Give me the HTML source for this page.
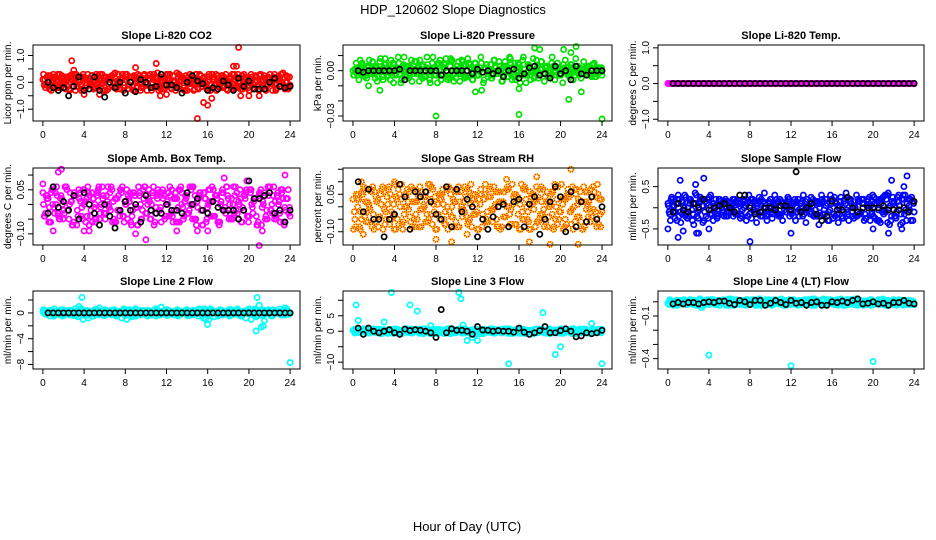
<!DOCTYPE html>
<html><head><meta charset="utf-8"><style>
html,body{margin:0;padding:0;background:#fff}
svg{display:block;font-family:"Liberation Sans",sans-serif}
</style></head><body>
<svg id="chart" width="936" height="540" viewBox="0 0 936 540">
<rect width="936" height="540" fill="#fff"/>
<text x="453" y="14" font-size="13" text-anchor="middle">HDP_120602  Slope Diagnostics</text>
<text x="467" y="531" font-size="13" text-anchor="middle">Hour of Day (UTC)</text>
</svg>
<script>
// ---- data ----
const hourTicks=[0,4,8,12,16,20,24];
const co2Color=[0.1,-0.2,0.25,-0.1,0.3,0.05,-0.3,0.15,-0.05,0.2,-0.25,0.1,0.3,-0.15,0.0,0.2,-0.3,0.1,-0.1,0.25,0.05,-0.2,0.3,-0.05,0.15,-0.25,0.2,0.0,-0.15,0.3,0.1,-0.3,0.2,-0.1,0.05,0.25,-0.2,0.15,-0.05,0.3,-0.3,0.1,0.2,-0.15,0.35,0.0,-0.25,0.15,0.3,-0.1,0.05,-0.3,0.2,0.1,-0.2,0.25,-0.05,0.15,-0.3,0.3,0.0,-0.15,0.2,-0.25,0.1,0.3,-0.1,0.05,-0.2,0.25,0.15,-0.3,0.2,-0.05,0.1,0.3,-0.25,0.0,0.15,-0.2,0.3,-0.1,0.2,-0.3,0.05,0.25,-0.15,0.1,-0.05,0.3,-0.2,0.15,0.0,-0.25,0.2,-0.1];
const co2OutHours=[2.8,3.0,11,9,15,15.6,16,16.4,18.5,18.8,19,19.2,20,21,11.4,5.5,4,12];
const co2OutVals=[0.8,0.45,0.7,0.55,-1.35,-0.75,-0.85,-0.6,0.6,0.6,1.3,-0.5,-0.5,-0.5,-0.5,-0.45,-0.45,-0.45];
const co2Black=[0.0,-0.2,-0.3,-0.2,-0.5,-0.15,0.2,-0.3,-0.25,0.2,-0.3,-0.55,0.0,-0.2,0.0,-0.4,0.0,-0.35,0.1,0.0,-0.2,-0.15,0.3,-0.1,-0.1,-0.2,-0.4,0.0,0.25,0.05,-0.05,-0.3,-0.2,-0.25,0.05,-0.1,-0.3,0.15,-0.15,0.05,-0.25,-0.25,-0.25,0.0,0.15,-0.15,-0.2,-0.15];

const presColor=[0,-0.001,0.002,-0.002,0.001,-0.003,0.003,0,-0.002,0.002,-0.001,0.001,0.004,-0.004,0,0.002,-0.002,0.001,-0.003,0.003,-0.001,0,0.002,-0.002,0.001,0.003,-0.004,0,0.002,-0.001,0.001,-0.003,0.004,0,-0.002,0.002,-0.001,0.003,-0.003,0.001,0,0.002,-0.002,0.004,-0.004,0.001,-0.001,0.002,-0.003,0.005,-0.006,0.004,0,-0.005,0.007,-0.002,0.003,-0.007,0.006,-0.004,0.008,0.002,-0.006,0.005,-0.003,0.009,-0.008,0.004,0,-0.005,0.007,-0.002,0.006,-0.007,0.003,-0.004,0.009,-0.006,0.005,0.002,-0.008,0.007,-0.003,0.004,-0.006,0.008,0,-0.005,0.006,-0.002,0.003,-0.004,0.005,-0.001,0.002,-0.003];
const presOutHours=[8,16,24,20.8,2.6,1.5,0.7,11.8,12.4,18,21.5,17.5,20.3,22,21,16];
const presOutVals=[-0.03,-0.029,-0.032,-0.019,-0.013,-0.01,0.007,-0.014,-0.013,0.014,0.016,0.015,0.014,-0.014,0.012,-0.012];
const presBlack=[0,-0.001,0,0,0,0,0,0,0.001,-0.006,0,0,0,0,0,0,-0.003,0,0,0,0,0,-0.002,0.001,-0.001,0,-0.002,0,-0.004,0,0.001,-0.005,-0.002,0.002,0.003,-0.003,-0.002,-0.005,0.003,-0.002,0,-0.006,0.003,-0.002,-0.003,0,0,0];

const tempColor=[0,0,0,0,0,0,0,0,0,0,0,0,0,0,0,0,0,0,0,0,0,0,0,0,0,0,0,0,0,0,0,0,0,0,0,0,0,0,0,0,0,0,0,0,0,0,0,0,0,0,0,0,0,0,0,0,0,0,0,0,0,0,0,0,0,0,0,0,0,0,0,0,0,0,0,0,0,0,0,0];
const tempBlack=[0,0,0,0,0,0,0,0,0,0,0,0,0,0,0,0,0,0,0,0,0,0,0,0,0,0,0,0,0,0,0,0,0,0,0,0,0,0,0,0,0,0,0,0,0,0,0,0];

const ambColor=[0.04,-0.03,0.02,-0.06,0.05,0.0,-0.04,0.03,-0.02,0.06,-0.05,0.01,0.04,-0.07,0.02,-0.01,0.05,-0.04,0.03,-0.06,0.0,0.04,-0.03,0.02,-0.05,0.06,-0.02,0.01,-0.06,0.03,0.05,-0.04,0.0,0.02,-0.07,0.04,-0.01,0.03,-0.05,0.06,-0.03,0.01,0.04,-0.06,0.02,-0.02,0.05,-0.04,0.0,0.03,-0.06,0.04,-0.01,0.06,-0.05,0.02,-0.03,0.05,0.0,-0.07,0.03,-0.02,0.04,-0.05,0.01,0.06,-0.04,0.02,-0.06,0.05,-0.01,0.03,-0.03,0.0,0.06,-0.05,0.02,-0.02,0.04,-0.06,0.05,0.01,-0.04,0.03,-0.07,0.04,-0.02,0.06,0.0,-0.05,0.03,-0.03,0.05,-0.01,0.02,-0.04];
const ambOutHours=[1.5,1.8,1,4,4.5,9,10,13,15,16,21,21.3,23.5,0,17.6,19.8];
const ambOutVals=[0.11,0.12,-0.09,-0.09,-0.09,-0.1,-0.12,-0.09,-0.09,-0.09,-0.14,-0.09,0.1,0.07,0.09,0.08];
const ambBlack=[-0.03,0.06,-0.01,0.01,-0.02,0.03,-0.05,0.04,0.0,-0.03,-0.07,0.0,-0.04,-0.08,-0.02,0.01,-0.02,0.0,-0.06,0.03,-0.02,-0.03,-0.03,0.0,-0.02,-0.02,-0.03,0.04,0.0,0.02,-0.02,-0.03,0.01,-0.01,-0.02,-0.02,-0.02,-0.05,-0.02,0.08,0.02,0.02,0.03,0.04,-0.03,-0.02,-0.06,-0.02];

const rhColor=[0.03,-0.08,0.05,-0.02,0.08,-0.06,0.01,0.06,-0.09,0.02,-0.04,0.07,-0.01,0.04,-0.07,0.03,0.09,-0.05,0.0,-0.09,0.05,0.02,-0.06,0.07,-0.03,0.04,-0.08,0.01,0.06,-0.05,0.08,-0.02,-0.09,0.03,0.05,-0.07,0.0,0.07,-0.04,0.02,-0.08,0.06,-0.01,0.04,-0.06,0.09,-0.03,0.01,-0.09,0.05,0.03,-0.05,0.07,-0.02,0.0,-0.08,0.06,0.02,-0.04,0.08,-0.07,0.01,0.05,-0.03,-0.09,0.07,0.03,-0.06,0.04,-0.01,0.08,-0.05,0.02,-0.08,0.06,0.0,-0.03,0.09,-0.07,0.04,0.01,-0.05,0.07,-0.02,-0.09,0.05,0.03,-0.06,0.08,-0.01,0.02,-0.04,0.06,-0.08,0.03,-0.02];
const rhOutHours=[1,0.8,4,8,9.5,11,17,19,21,21.7,17.7,14.8];
const rhOutVals=[-0.11,0.1,0.1,-0.13,-0.14,-0.11,-0.14,-0.15,0.15,-0.15,0.12,0.11];
const rhBlack=[0.1,-0.02,0.07,-0.05,-0.05,-0.12,-0.05,-0.03,0.09,0.04,-0.09,0.06,0.04,0.06,0.02,-0.03,-0.05,0.08,-0.08,0.07,-0.02,0.03,0.0,-0.12,-0.05,-0.09,-0.04,0.0,0.01,-0.08,0.02,0.03,-0.08,0.01,0.04,-0.11,-0.05,0.02,0.08,0.04,-0.1,0.06,-0.08,0.02,-0.06,0.04,-0.05,0.0];

const flowColor=[0.1,-0.3,0.2,-0.1,0.3,-0.35,0.05,0.25,-0.2,0.15,-0.4,0.3,-0.05,0.2,-0.3,0.1,0.25,-0.15,0.05,-0.25,0.2,-0.1,0.15,-0.2,0.0,0.2,-0.15,0.1,-0.25,0.15,0.05,-0.2,0.2,-0.05,0.1,-0.15,0.2,0.0,-0.2,0.15,-0.1,0.05,0.2,-0.15,0.1,-0.05,0.15,-0.2,0.05,0.2,-0.1,0.1,-0.2,0.15,0.0,-0.15,0.2,-0.05,0.1,-0.2,0.15,0.05,-0.1,0.2,-0.15,0.1,0.0,-0.2,0.15,-0.05,0.2,-0.1,0.05,-0.2,0.15,0.1,-0.15,0.2,-0.3,0.3,-0.25,0.15,-0.35,0.25,-0.1,0.35,-0.3,0.1,-0.25,0.3,-0.15,0.2,-0.3,0.05,0.25,-0.1];
const flowOutHours=[0,1,1.5,2.8,3,1.2,3.5,2.7,4,8,12,20,21.5,21.8,22.8,23.3,23];
const flowOutVals=[-0.5,-0.7,-0.55,-0.6,-0.6,0.65,0.7,0.55,-0.5,-0.8,-0.6,-0.5,-0.6,0.65,-0.5,0.75,0.5];
const flowBlack=[-0.1,0.1,-0.05,-0.1,0.1,0.0,0.2,-0.05,0.0,0.05,0.1,0.0,-0.1,0.3,0.3,0.0,-0.15,-0.1,0.0,0.0,-0.05,0.05,0.05,-0.05,0.85,-0.1,0.0,0.1,-0.15,-0.3,-0.2,0.15,-0.05,-0.05,0.25,0.0,-0.1,0.0,0.0,0.0,0.0,0.05,-0.05,-0.05,-0.05,0.0,-0.1,0.15];

const l2Color=[0.3,-0.2,0.1,0.4,-0.3,0.2,0,0.5,-0.4,0.1,0.3,-0.1,0.2,-0.3,0.6,0,-0.2,0.4,0.1,-0.5,0.3,0,0.2,-0.3,0.5,0.1,-0.2,0.3,-0.4,0.2,0,0.6,-0.1,0.3,-0.3,0.1,0.5,-0.2,0.2,0,-0.4,0.3,0.1,-0.1,0.4,-0.3,0.2,0,0.5,-0.2,0.1,0.3,-0.5,0.2,0,0.4,-0.1,0.3,-0.3,0.1,0.6,-0.2,0,0.3,-0.4,0.2,0.1,-0.1,0.5,-0.3,0.2,0,0.3,-0.2,0.4,0.1,-0.5,0.2,-0.8,0.3,-1.0,0.5,-0.6,0.2,-0.3,0.4,-0.1,0.3,-0.5,0.2,0,0.6,-0.2,0.1,0.3,-0.1];
const l2OutHours=[3.8,3.5,20.8,21,20.7,21.2,21.4,16,15.8,5.5,11.5,24,23.5,21.5];
const l2OutVals=[2.4,1,2.4,1.2,-2.8,-2.2,-2,-1.8,-1,0.8,0.9,-7.7,0.8,-1.2];
const l2Black=[0,0,0,0,0,0,0,0,0,0,0,0,0,0,0,0,0,0,0,0,0,0,0,0,0,0,0,0,0,0,0,0,0,0,0,0,0,0,0,0,0,0,0,0,0,0,0,0];

const l3Color=[0.3,-0.5,0.6,-0.2,0.8,0,-0.6,0.4,-0.3,0.7,0.1,-0.7,0.5,-0.1,0.2,-0.4,0.8,-0.6,0,0.3,-0.2,0.6,-0.5,0.1,0.7,-0.3,0.4,-0.8,0.2,0,0.5,-0.4,0.6,-0.1,0.3,-0.7,0.8,-0.2,0.1,-0.5,0.4,0,-0.6,0.7,-0.3,0.2,0.5,-0.8,0.1,0.6,-0.4,0.3,-0.1,0.8,-0.6,0,0.4,-0.2,0.7,-0.5,0.2,-0.7,0.5,0.1,-0.3,0.6,-0.8,0.3,0,-0.4,0.7,-0.1,0.5,-0.6,0.2,0.8,-0.3,0.1,-0.5,0.4,-0.7,0.6,0,-0.2,0.3,-0.8,0.5,-0.4,0.7,0.1,-0.6,0.2,-0.1,0.4,-0.3,0.6];
const l3OutHours=[0.3,0.5,3.7,3,5.5,6.2,7.5,10.2,10.4,10.6,11,11.5,12,15,18.3,20,19.5,24,23];
const l3OutVals=[8.5,3.5,12.5,3,8.5,6.5,1.8,12.5,10.5,2,-3,-2,-3,-10.5,6,-5,-7.5,-10.5,2.5];
const l3Black=[1,-1,1,0,-0.5,0,0.5,-0.5,-1,0.7,0.2,0.5,0.3,0,-0.5,-2,7,-0.5,0.8,0.3,0.3,0,-1,1.5,0.4,0.3,0,0.2,0,0,-0.3,1,-0.3,-1,-0.5,0.2,1.5,-0.5,-0.5,0.2,0.8,0,-1.8,-1.5,-0.5,-0.8,-0.5,0.3];

const l4Color=[-0.01,0.005,-0.02,0.0,-0.015,0.01,-0.005,-0.02,0.005,-0.01,0.0,-0.025,0.01,-0.015,0.005,-0.005,-0.02,0.015,-0.01,0.0,-0.025,0.01,-0.015,0.005,-0.005,0.015,-0.02,0.0,-0.01,0.01,-0.025,0.005,-0.015,0.015,-0.005,-0.02,0.01,0.0,-0.015,0.005,-0.025,0.015,-0.01,0.0,-0.02,0.01,-0.005,0.015,-0.015,0.005,-0.025,0.01,0.0,-0.01,0.015,-0.02,0.005,-0.005,0.01,-0.015,0.02,-0.025,0.0,0.015,-0.01,0.005,-0.02,0.01,-0.005,0.015,-0.015,0.0,0.02,-0.025,0.01,-0.01,0.005,-0.02,0.015,0.0,-0.015,0.01,-0.005,0.02,-0.025,0.005,-0.01,0.015,-0.02,0.0,0.01,-0.015,0.005,-0.01,0.0,-0.02];
const l4OutHours=[4,12,20,3.3,14.3,17.5];
const l4OutVals=[-0.375,-0.45,-0.42,-0.04,0.02,0.015];
const l4Black=[-0.015,-0.005,-0.015,-0.005,-0.005,-0.015,-0.005,0.0,-0.005,0.005,0.005,-0.01,-0.02,0.01,0.0,-0.02,0.01,0.01,-0.025,-0.01,0.01,-0.005,-0.02,0.01,-0.01,-0.005,-0.025,-0.005,0.0,-0.025,-0.025,0.0,-0.005,0.005,-0.005,0.01,0.02,-0.015,-0.01,0.0,-0.015,-0.01,-0.025,-0.005,-0.005,0.01,-0.01,-0.015];

const panels=[
 {name:'co2',title:'Slope Li-820 CO2',ylab:'Licor ppm per min.',col:'#ff0000',c:co2Color,oh:co2OutHours,ov:co2OutVals,b:co2Black,ymin:-1.44,ymax:1.39,ticks:[-1,-0.5,0,0.5,1],labels:['−1.0','','0.0','','1.0'],row:0,colI:0},
 {name:'pressure',title:'Slope Li-820 Pressure',ylab:'kPa per min.',col:'#00e000',c:presColor,oh:presOutHours,ov:presOutVals,b:presBlack,ymin:-0.0333,ymax:0.017,ticks:[-0.03,-0.02,-0.01,0,0.01],labels:['−0.03','','','0.00',''],row:0,colI:1},
 {name:'temp',title:'Slope Li-820 Temp.',ylab:'degrees C per min.',col:'#ff00ff',c:tempColor,oh:[],ov:[],b:tempBlack,ymin:-1.05,ymax:1.08,ticks:[-1,-0.5,0,0.5,1],labels:['−1.0','','0.0','','1.0'],row:0,colI:2},
 {name:'amb-box-temp',title:'Slope Amb. Box Temp.',ylab:'degrees C per min.',col:'#ff00ff',c:ambColor,oh:ambOutHours,ov:ambOutVals,b:ambBlack,ymin:-0.138,ymax:0.124,ticks:[-0.1,-0.05,0,0.05,0.1],labels:['−0.10','','','0.05',''],row:1,colI:0},
 {name:'gas-stream-rh',title:'Slope Gas Stream RH',ylab:'percent per min.',col:'#ffee00',col2:'#ff2000',c:rhColor,oh:rhOutHours,ov:rhOutVals,b:rhBlack,ymin:-0.153,ymax:0.155,ticks:[-0.1,-0.05,0,0.05,0.1,0.15],labels:['−0.10','','','0.05','',''],row:1,colI:1},
 {name:'sample-flow',title:'Slope Sample Flow',ylab:'ml/min per min.',col:'#0000ff',c:flowColor,oh:flowOutHours,ov:flowOutVals,b:flowBlack,ymin:-0.88,ymax:0.94,ticks:[-0.5,0,0.5],labels:['−0.5','','0.5'],row:1,colI:2},
 {name:'line2-flow',title:'Slope Line 2 Flow',ylab:'ml/min per min.',col:'#00ffff',c:l2Color,oh:l2OutHours,ov:l2OutVals,b:l2Black,ymin:-8.7,ymax:3.4,ticks:[-8,-6,-4,-2,0,2],labels:['−8','','−4','','0',''],row:2,colI:0},
 {name:'line3-flow',title:'Slope Line 3 Flow',ylab:'ml/min per min.',col:'#00ffff',c:l3Color,oh:l3OutHours,ov:l3OutVals,b:l3Black,ymin:-12.2,ymax:13,ticks:[-10,-5,0,5,10],labels:['−10','','0','5',''],row:2,colI:1},
 {name:'line4-flow',title:'Slope Line 4 (LT) Flow',ylab:'ml/min per min.',col:'#00ffff',c:l4Color,oh:l4OutHours,ov:l4OutVals,b:l4Black,ymin:-0.473,ymax:0.076,ticks:[-0.4,-0.3,-0.2,-0.1,0],labels:['−0.4','','','−0.1',''],row:2,colI:2}
];
const boxX=[[33,300],[343,612],[658,924]];
const boxY=[[45,121],[168,245],[291,369]];
const NS='http://www.w3.org/2000/svg';
const svg=document.getElementById('chart');
function mk(tag,attrs,parent){const e=document.createElementNS(NS,tag);for(const k in attrs)e.setAttribute(k,attrs[k]);(parent||svg).appendChild(e);return e;}
panels.forEach(p=>{
  const [x0,x1]=boxX[p.colI],[y0,y1]=boxY[p.row];
  const g=mk('g',{});
  
  
  const xs=h=>x0+(h+0.96)/25.92*(x1-x0);
  const ys=v=>y1-(v-p.ymin)/(p.ymax-p.ymin)*(y1-y0);
  const t=mk('text',{x:(x0+x1)/2,y:y0-6,'font-size':11,'font-weight':'bold','text-anchor':'middle'},g);
  t.textContent=p.title;
  
  
  const pts=mk('g',{fill:'none','stroke-width':1.7},g);
  
  
  const dot=(h,v,color,dash)=>{const c=mk('circle',{cx:xs(h).toFixed(1),cy:ys(v).toFixed(1),r:2.6,stroke:color},pts);if(dash)c.setAttribute('stroke-dasharray','1 1');
    
    };
  const n=p.c.length;
  const pass=(off,pick)=>p.c.forEach((v,i)=>{const h=(i+off)*24/(n-1);if(h>24)return;const vv=pick(i);dot(h,vv,p.col);if(p.col2)dot(h,vv,p.col2,true);});
  pass(0,i=>p.c[i]);
  pass(0.5,i=>p.c[n-1-i]);
  pass(0.25,i=>p.c[(i+n/2)%n|0]);
  pass(0.75,i=>p.c[(i+17)%n]);
  p.oh.forEach((h,i)=>{dot(h,p.ov[i],p.col);if(p.col2)dot(h,p.ov[i],p.col2,true);});
  const nb=p.b.length;
  p.b.forEach((v,i)=>dot(0.5+i*23.5/(nb-1),v,'#000'));
  const box=mk('rect',{x:x0,y:y0,width:x1-x0,height:y1-y0,fill:'none',stroke:'#000','stroke-width':1},g);
  
  
  hourTicks.forEach(h=>{const x=xs(h);mk('line',{x1:x,x2:x,y1:y1,y2:y1+5,stroke:'#000'},g);
    const l=mk('text',{x:x,y:y1+17,'font-size':10,'text-anchor':'middle'},g);l.textContent=h;
    
    });
  p.ticks.forEach((v,i)=>{const y=ys(v);mk('line',{x1:x0-5,x2:x0,y1:y,y2:y,stroke:'#000'},g);
    if(p.labels[i]){const l=mk('text',{x:0,y:0,'font-size':10,'text-anchor':'middle',transform:`translate(${x0-9},${y}) rotate(-90)`},g);l.textContent=p.labels[i];
    
    }});
  const yl=mk('text',{x:0,y:0,'font-size':10,'text-anchor':'middle',transform:`translate(${x0-22},${(y0+y1)/2}) rotate(-90)`},g);
  yl.textContent=p.ylab;
  
  
});
</script>
</body></html>
